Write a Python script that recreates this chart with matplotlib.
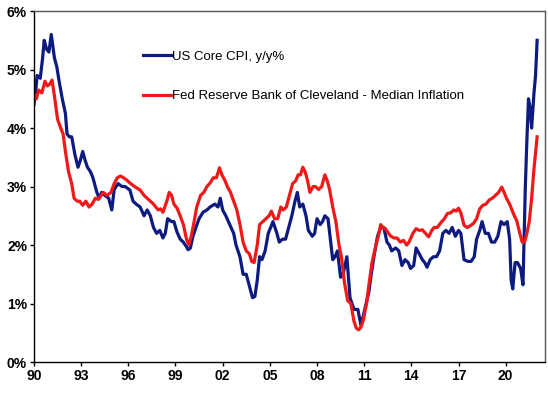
import matplotlib
matplotlib.use("Agg")
import matplotlib.pyplot as plt
import numpy as np

# US core CPI, y/y %
cpi_years = [1990.0, 1990.1, 1990.2, 1990.4, 1990.55, 1990.65, 1990.8, 1990.95, 1991.1, 1991.3,
             1991.45, 1991.6, 1991.8, 1992.0, 1992.1, 1992.25, 1992.4, 1992.6, 1992.8, 1992.95,
             1993.1, 1993.25, 1993.4, 1993.6, 1993.75, 1994.0, 1994.15, 1994.3, 1994.5, 1994.75,
             1994.95, 1995.1, 1995.35, 1995.6, 1995.8, 1996.1, 1996.3, 1996.5, 1996.75, 1997.0,
             1997.2, 1997.4, 1997.6, 1997.8, 1998.0, 1998.2, 1998.35, 1998.5, 1998.75, 1998.9,
             1999.1, 1999.3, 1999.5, 1999.7, 1999.8, 1999.95, 2000.1, 2000.3, 2000.5, 2000.75,
             2001.0, 2001.2, 2001.5, 2001.7, 2001.85, 2002.0, 2002.2, 2002.45, 2002.7, 2002.85,
             2003.1, 2003.3, 2003.5, 2003.7, 2003.9, 2004.05, 2004.2, 2004.35, 2004.5, 2004.7,
             2004.9, 2005.2, 2005.45, 2005.6, 2005.8, 2006.0, 2006.2, 2006.4, 2006.6, 2006.75,
             2006.9, 2007.1, 2007.3, 2007.45, 2007.7, 2007.85, 2008.0, 2008.2, 2008.35, 2008.5,
             2008.7, 2008.85, 2009.0, 2009.15, 2009.3, 2009.5, 2009.7, 2009.9, 2010.1, 2010.35,
             2010.6, 2010.8, 2010.95, 2011.1, 2011.3, 2011.45, 2011.65, 2011.85, 2012.05, 2012.25,
             2012.45, 2012.6, 2012.75, 2013.0, 2013.2, 2013.4, 2013.6, 2013.8, 2013.95, 2014.15,
             2014.3, 2014.5, 2014.7, 2014.85, 2015.0, 2015.2, 2015.4, 2015.6, 2015.8, 2016.0,
             2016.2, 2016.4, 2016.6, 2016.8, 2017.0, 2017.15, 2017.35, 2017.6, 2017.8, 2018.0,
             2018.15, 2018.35, 2018.5, 2018.7, 2018.9, 2019.1, 2019.3, 2019.5, 2019.7, 2019.9,
             2020.1, 2020.25, 2020.35, 2020.45, 2020.6, 2020.75, 2020.95, 2021.1, 2021.25, 2021.35,
             2021.45, 2021.55, 2021.65, 2021.8, 2021.9, 2022.0]
cpi_vals = [4.4, 4.6, 4.9, 4.85, 5.2, 5.5, 5.35, 5.3, 5.6, 5.2,
            5.05, 4.8, 4.5, 4.25, 3.9, 3.85, 3.85, 3.55, 3.33, 3.45,
            3.6, 3.45, 3.33, 3.25, 3.15, 2.9, 2.8, 2.9, 2.85, 2.8,
            2.6, 2.95, 3.05, 3.0, 3.0, 2.94, 2.75, 2.7, 2.65, 2.5,
            2.6, 2.5, 2.3, 2.2, 2.25, 2.12, 2.2, 2.45, 2.4, 2.4,
            2.22, 2.1, 2.05, 1.97, 1.92, 1.95, 2.14, 2.3, 2.45, 2.56,
            2.6, 2.65, 2.7, 2.65, 2.8, 2.6, 2.5, 2.35, 2.2, 2.0,
            1.8, 1.5, 1.5, 1.3, 1.1, 1.12, 1.4, 1.8, 1.75, 1.9,
            2.2, 2.4, 2.2, 2.05, 2.1, 2.1, 2.3, 2.5, 2.75, 2.9,
            2.65, 2.7, 2.5, 2.25, 2.15, 2.2, 2.45, 2.35, 2.4, 2.5,
            2.45, 2.1, 1.75, 1.8, 1.9, 1.45, 1.55, 1.8, 1.1, 0.9,
            0.9, 0.62, 0.8, 0.97, 1.2, 1.5, 1.85, 2.15, 2.3, 2.3,
            2.05, 2.0, 1.9, 1.95, 1.9, 1.65, 1.75, 1.7, 1.6, 1.65,
            1.95, 1.85, 1.75, 1.7, 1.62, 1.75, 1.8, 1.8, 1.9, 2.2,
            2.25, 2.2, 2.3, 2.15, 2.25, 2.2, 1.75, 1.72, 1.72, 1.8,
            2.1, 2.25, 2.4, 2.2, 2.2, 2.05, 2.05, 2.15, 2.4, 2.35,
            2.4, 2.1, 1.4, 1.25, 1.7, 1.7, 1.6, 1.32, 3.0, 3.8,
            4.5, 4.35, 4.0, 4.6, 4.9, 5.5]

# Cleveland Fed median CPI, y/y %
med_years = [1990.0, 1990.15, 1990.3, 1990.5, 1990.7, 1990.85, 1991.0, 1991.15, 1991.3, 1991.5,
             1991.7, 1991.85, 1992.0, 1992.2, 1992.4, 1992.55, 1992.75, 1992.9, 1993.1, 1993.3,
             1993.5, 1993.7, 1993.9, 1994.1, 1994.4, 1994.65, 1994.9, 1995.1, 1995.3, 1995.5,
             1995.7, 1995.95, 1996.1, 1996.4, 1996.75, 1997.0, 1997.2, 1997.4, 1997.6, 1997.9,
             1998.05, 1998.2, 1998.45, 1998.6, 1998.75, 1998.9, 1999.1, 1999.3, 1999.5, 1999.7,
             1999.85, 2000.0, 2000.15, 2000.35, 2000.6, 2000.8, 2001.0, 2001.2, 2001.4, 2001.6,
             2001.8, 2001.95, 2002.15, 2002.3, 2002.5, 2002.7, 2002.9, 2003.1, 2003.3, 2003.5,
             2003.7, 2003.85, 2004.0, 2004.2, 2004.35, 2004.55, 2004.75, 2004.95, 2005.1, 2005.3,
             2005.5, 2005.7, 2005.85, 2006.05, 2006.25, 2006.45, 2006.65, 2006.8, 2006.95, 2007.1,
             2007.25, 2007.4, 2007.55, 2007.75, 2007.9, 2008.1, 2008.3, 2008.5, 2008.65, 2008.8,
             2009.0, 2009.2, 2009.4, 2009.55, 2009.75, 2009.95, 2010.15, 2010.35, 2010.5, 2010.65,
             2010.8, 2010.95, 2011.15, 2011.3, 2011.5, 2011.75, 2011.9, 2012.05, 2012.2, 2012.35,
             2012.55, 2012.7, 2012.9, 2013.1, 2013.3, 2013.5, 2013.7, 2013.85, 2014.1, 2014.3,
             2014.5, 2014.7, 2014.9, 2015.1, 2015.3, 2015.45, 2015.65, 2015.9, 2016.1, 2016.3,
             2016.5, 2016.7, 2016.85, 2017.0, 2017.15, 2017.35, 2017.55, 2017.75, 2017.95, 2018.15,
             2018.35, 2018.55, 2018.75, 2018.95, 2019.15, 2019.35, 2019.55, 2019.75, 2019.9, 2020.05,
             2020.25, 2020.4, 2020.55, 2020.7, 2020.9, 2021.05, 2021.2, 2021.35, 2021.5, 2021.65,
             2021.8, 2022.0]
med_vals = [4.58, 4.5, 4.65, 4.6, 4.8, 4.72, 4.75, 4.82, 4.55, 4.15,
            4.0, 3.9, 3.6, 3.25, 3.05, 2.8, 2.75, 2.75, 2.68, 2.75,
            2.65, 2.7, 2.8, 2.78, 2.9, 2.85, 2.9, 3.05, 3.15, 3.18,
            3.15, 3.1, 3.06, 3.0, 2.94, 2.85, 2.8, 2.75, 2.7, 2.6,
            2.62, 2.56, 2.75, 2.9, 2.85, 2.7, 2.63, 2.5, 2.35, 2.1,
            2.0, 2.15, 2.35, 2.65, 2.85, 2.9, 3.0, 3.06, 3.15, 3.15,
            3.32, 3.2, 3.1, 3.0, 2.9, 2.75, 2.6, 2.35, 2.05, 1.9,
            1.85, 1.72, 1.7, 2.0, 2.35, 2.4, 2.45, 2.5, 2.58, 2.45,
            2.45, 2.65, 2.6, 2.65, 2.85, 3.05, 3.1, 3.2, 3.2, 3.33,
            3.25, 3.1, 2.9, 3.0, 3.0, 2.95, 3.0, 3.2, 3.1, 2.95,
            2.65, 2.4, 2.0, 1.8, 1.35, 1.05, 1.0, 0.7, 0.58, 0.55,
            0.6, 0.72, 1.0, 1.32, 1.7, 2.0, 2.15, 2.35, 2.3, 2.28,
            2.2, 2.15, 2.12, 2.12, 2.05, 2.08, 2.0, 2.05, 2.2, 2.28,
            2.25, 2.26, 2.2, 2.14, 2.25, 2.3, 2.3, 2.39, 2.45, 2.54,
            2.55, 2.6, 2.58, 2.63, 2.55, 2.34, 2.3, 2.33, 2.37, 2.45,
            2.62, 2.68, 2.7, 2.77, 2.8, 2.85, 2.9, 2.99, 2.9, 2.8,
            2.7, 2.6, 2.5, 2.42, 2.2, 2.05, 2.05, 2.2, 2.4, 2.8,
            3.3, 3.85]

tick_years = [1990, 1993, 1996, 1999, 2002, 2005, 2008, 2011, 2014, 2017, 2020]
tick_labels = ['90', '93', '96', '99', '02', '05', '08', '11', '14', '17', '20']

plt.rcParams['font.family'] = ['Liberation Sans', 'DejaVu Sans']

fig = plt.figure(figsize=(5.48, 3.95), dpi=100)
ax = fig.add_axes([0.062, 0.0835, 0.9325, 0.8885])

ax.plot(cpi_years, cpi_vals, color='#0d1a80', lw=2.3, label='US Core CPI, y/y%')
ax.plot(med_years, med_vals, color='#f01818', lw=2.3, label='Fed Reserve Bank of Cleveland - Median Inflation')

ax.set_xlim(1990, 2022.5)
ax.set_ylim(0, 6)
ax.set_xticks(tick_years)
ax.set_xticklabels(tick_labels)
ax.set_yticks(np.arange(0, 7, 1))
ax.set_yticklabels([f'{v}%' for v in range(7)])
ax.tick_params(direction='out', length=3, width=1, labelsize=10, pad=2)
for lab in ax.get_xticklabels() + ax.get_yticklabels():
    lab.set_fontweight('bold')

ax.spines['left'].set_color('black')
ax.spines['bottom'].set_color('black')
ax.spines['top'].set_color('#555555')
ax.spines['right'].set_color('#555555')
for s in ax.spines.values():
    s.set_linewidth(1.0)

ax.legend(loc='upper left', bbox_to_anchor=(0.19, 0.922), frameon=False,
          fontsize=9.5, handlelength=2.2, handletextpad=0.0, labelspacing=2.1)

fig.savefig('out.png', dpi=100)
